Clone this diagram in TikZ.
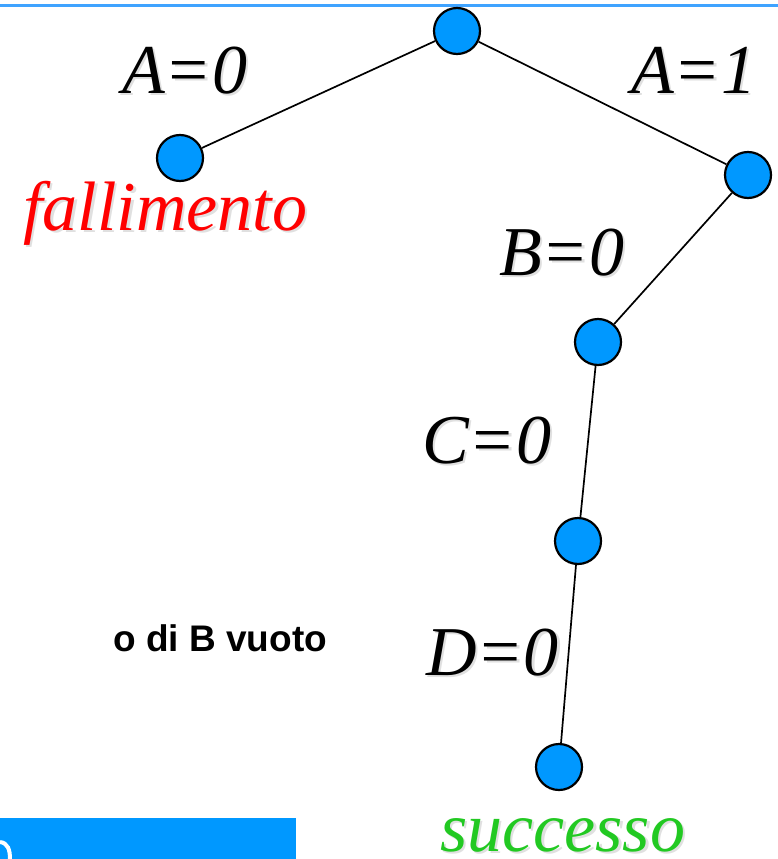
\documentclass[tikz,border=0pt]{standalone}
\usepackage{fontspec}
\setmainfont{Liberation Serif}
\newfontfamily\labsans{Liberation Sans}
\definecolor{nodeblue}{HTML}{0098FF}
\definecolor{lineblue}{HTML}{3FA3FF}
\definecolor{okgreen}{HTML}{22C922}
\begin{document}
\begin{tikzpicture}[x=1pt,y=-1pt,
  vert/.style={circle,draw=black,line width=2.2pt,fill=nodeblue,minimum size=46pt,inner sep=0pt},
  edge/.style={draw=black,line width=1.7pt},
  lab/.style={anchor=base west,inner sep=0pt,font=\fontsize{70}{80}\selectfont\itshape},
  shad/.style={lab,text=black!40,opacity=0.3}]
\useasboundingbox (0,0) rectangle (778,859);
% top line
\fill[lineblue] (0,4.5) rectangle (778,7.5);
% bottom-left box
\fill[nodeblue] (0,818) rectangle (296,859);
\draw[white,line width=4pt] (0,842) .. controls (8,843) and (10,850) .. (10,859);
% nodes
\node[vert] (r) at (457,31) {};
\node[vert] (a0) at (180,158) {};
\node[vert] (a1) at (748,175) {};
\node[vert] (b0) at (598,342) {};
\node[vert] (c0) at (578,541) {};
\node[vert] (d0) at (559,767) {};
% edges
\draw[edge] (r) -- (a0);
\draw[edge] (r) -- (a1);
\draw[edge] (a1) -- (b0);
\draw[edge] (b0) -- (c0);
\draw[edge] (c0) -- (d0);
% soft shadows of the labels
\node[shad] at (124.5,95.5) {A=0};
\node[shad] at (633.5,95.5) {A=1};
\node[shad] at (501.5,277.5) {B=0};
\node[shad] at (424.5,465.5) {C=0};
\node[shad] at (428.5,677.5) {D=0};
\node[shad] at (25.5,232.5) {fallimento};
\node[shad] at (442.5,853) {successo};
% labels
\node[lab] (la0) at (122,93) {A=0};
\node[lab] (la1) at (631,93) {A=1};
\node[lab] (lb0) at (499,275) {B=0};
\node[lab] (lc0) at (422,463) {C=0};
\node[lab] (ld0) at (426,675) {D=0};
\node[lab,text=red] (fail) at (23,230) {fallimento};
\node[lab,text=okgreen] (succ) at (440,851) {successo};
\node[anchor=base west,inner sep=0pt,font=\labsans\bfseries\fontsize{37}{40}\selectfont] (dom) at (113,651) {o di B vuoto};
\end{tikzpicture}
\end{document}
